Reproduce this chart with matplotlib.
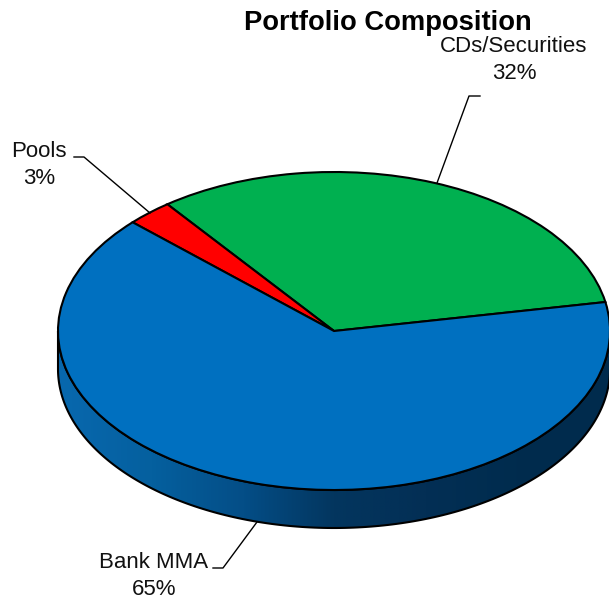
import numpy as np
import matplotlib
matplotlib.use('Agg')
import matplotlib.pyplot as plt
from matplotlib.colors import LinearSegmentedColormap
from matplotlib.patches import Polygon
from matplotlib.transforms import Affine2D

plt.rcParams['font.family'] = ['Liberation Sans', 'DejaVu Sans']

# slices, counterclockwise from the right edge of the green one
labels = ['CDs/Securities', 'Pools', 'Bank MMA']
shares = [32.4, 2.7, 64.9]
slice_colors = ['#00b050', '#ff0000', '#0070c0']
wall_colors = ['#0868ae', '#05609f', '#044e87', '#03365f', '#032f55', '#002c4e', '#002b4d']

W, H = 609, 603
cx, cy, rx, ry = 334, 331, 276, 159
depth = 38 / ry

fig = plt.figure(figsize=(W / 100, H / 100), dpi=100)
ax = fig.add_axes([0, 0, 1, 1])

# the wall of the disc, shaded left to right
t = np.linspace(np.pi, 2 * np.pi, 200)
top = np.column_stack((np.cos(t), np.sin(t)))
bottom = top[::-1] - [0, depth]
wall = Polygon(np.vstack((top, bottom)), closed=True, fc='none', ec='black', lw=1.5, zorder=3)
ax.add_patch(wall)
cmap = LinearSegmentedColormap.from_list('wall', wall_colors)
grad = ax.imshow(np.linspace(0, 1, 400).reshape(1, -1), cmap=cmap, aspect='auto',
                 extent=(-1, 1, -1.5, 0.2), zorder=2)
grad.set_clip_path(wall)

# the top face is an ordinary pie squashed by the axes limits
ax.pie(shares, colors=slice_colors, startangle=10.5, radius=1,
       wedgeprops={'edgecolor': 'black', 'linewidth': 1.5, 'zorder': 4})
ax.set_aspect('auto')
ax.set_xlim(-cx / rx, (W - cx) / rx)
ax.set_ylim((cy - H) / ry, cy / ry)
ax.axis('off')

# annotations are placed in image pixels
px = Affine2D().scale(1 / W, -1 / H).translate(0, 1) + fig.transFigure

fig.text(388, 23, 'Portfolio Composition', transform=px, fontsize=19.7, fontweight='bold',
         ha='center', va='center')

label_pos = [(514, 60), (39, 165), (154, 576)]
leaders = [
    ([480, 469, 437], [96, 96, 183]),
    ([74, 84, 150], [157, 157, 213]),
    ([213, 223, 257], [568, 568, 522]),
]
for name, share, (x, y), (lx, ly) in zip(labels, shares, label_pos, leaders):
    fig.text(x, y, f'{name}\n{share:.0f}%', transform=px, fontsize=16, ha='center', va='center',
             linespacing=1.32, color='#111111')
    fig.add_artist(plt.Line2D(lx, ly, transform=px, color='black', lw=1.0))

fig.savefig('out.png', dpi=100)
